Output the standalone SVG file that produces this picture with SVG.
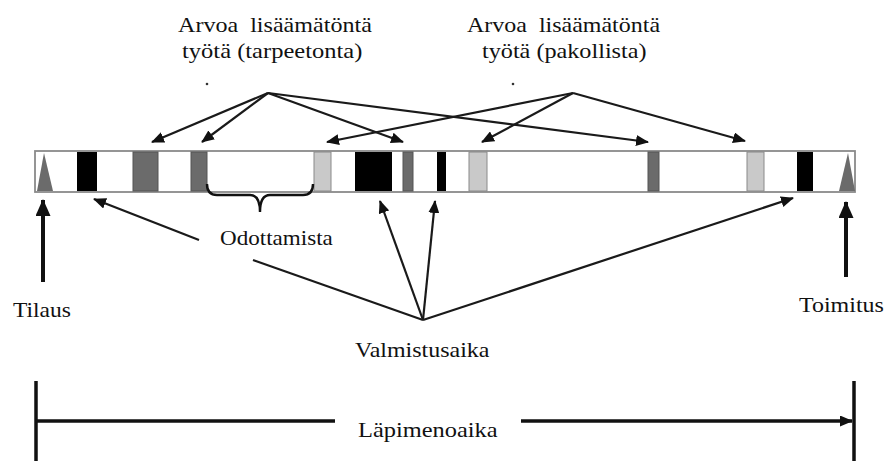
<svg xmlns="http://www.w3.org/2000/svg" width="888" height="461" viewBox="0 0 888 461">
  <style>
    .blk { fill: #000; }
    .dk { fill: #6b6b6b; stroke: #555; stroke-width: 1; }
    .lt { fill: #c9c9c9; stroke: #8a8a8a; stroke-width: 1; }
    .tri { fill: #6b6b6b; }
    .thin { stroke: #1a1a1a; stroke-width: 2.2; fill: none; }
    .bold { stroke: #111; stroke-width: 4; fill: none; }
  </style>
  <defs>
    <marker id="ah" markerUnits="userSpaceOnUse" markerWidth="13" markerHeight="11" refX="12" refY="5.5" orient="auto">
      <path d="M0,0 L13,5.5 L0,11 z" fill="#111"/>
    </marker>
    <marker id="ahBig" markerUnits="userSpaceOnUse" markerWidth="17" markerHeight="15" refX="16" refY="7.5" orient="auto">
      <path d="M0,0 L17,7.5 L0,15 z" fill="#111"/>
    </marker>
  </defs>

  <rect width="888" height="461" fill="#fff"/>

  <!-- process timeline bar -->
  <g id="timeline">
    <rect x="35" y="151" width="820" height="41" fill="#fff" stroke="#8a8a8a" stroke-width="1.8"/>
    <polygon class="tri" points="37,191 44,153 53,191"/>
    <rect class="blk" x="77" y="152" width="20" height="39"/>
    <rect class="dk" x="133" y="152" width="25" height="39"/>
    <rect class="dk" x="191" y="152" width="16" height="39"/>
    <rect class="lt" x="314" y="152" width="17" height="39"/>
    <rect class="blk" x="355" y="152" width="37" height="39"/>
    <rect class="dk" x="403" y="152" width="10" height="39"/>
    <rect class="blk" x="437" y="152" width="9" height="39"/>
    <rect class="lt" x="469" y="152" width="18" height="39"/>
    <rect class="dk" x="648" y="152" width="11" height="39"/>
    <rect class="lt" x="747" y="152" width="17" height="39"/>
    <rect class="blk" x="797" y="152" width="16" height="39"/>
    <polygon class="tri" points="839,191 848,153 855,191"/>
  </g>

  <!-- waiting brace -->
  <g id="brace">
    <path d="M207,184 Q207,195 217,195 L250,195 Q260,195 260,212 Q260,195 270,195 L303,195 Q313,195 313,184" stroke="#111" stroke-width="2.4" fill="none"/>
  </g>

  <!-- labels (serif, slightly widened) -->
  <g id="label-tarpeeton">
    <text transform="translate(178,32) scale(1.095,1)" font-family="Liberation Serif" font-size="22" fill="#111">Arvoa <tspan dx="5.5">lisäämätöntä</tspan></text>
    <text transform="translate(182,58) scale(1.115,1)" font-family="Liberation Serif" font-size="22" fill="#111">työtä (tarpeetonta)</text>
    <circle cx="207" cy="84" r="1.3" fill="#333"/>
  </g>
  <g id="label-pakollinen">
    <text transform="translate(467,32) scale(1.09,1)" font-family="Liberation Serif" font-size="22" fill="#111">Arvoa <tspan dx="5.5">lisäämätöntä</tspan></text>
    <text transform="translate(482,58) scale(1.1,1)" font-family="Liberation Serif" font-size="22" fill="#111">työtä (pakollista)</text>
    <circle cx="513" cy="84" r="1.3" fill="#333"/>
  </g>
  <g id="label-odottamista">
    <text transform="translate(220,245) scale(1.05,1)" font-family="Liberation Serif" font-size="22" fill="#111">Odottamista</text>
  </g>
  <g id="label-tilaus">
    <text transform="translate(13,317) scale(1.07,1)" font-family="Liberation Serif" font-size="22" fill="#111">Tilaus</text>
  </g>
  <g id="label-toimitus">
    <text transform="translate(799,312) scale(1.09,1)" font-family="Liberation Serif" font-size="22" fill="#111">Toimitus</text>
  </g>
  <g id="label-valmistusaika">
    <text transform="translate(355,357) scale(1.09,1)" font-family="Liberation Serif" font-size="22" fill="#111">Valmistusaika</text>
  </g>
  <g id="label-lapimenoaika">
    <text transform="translate(358,437) scale(1.11,1)" font-family="Liberation Serif" font-size="22" fill="#111">Läpimenoaika</text>
  </g>

  <!-- connectors -->
  <g id="connectors">
    <!-- unnecessary non-value-adding work -->
    <line class="thin" x1="268" y1="93" x2="152" y2="142" marker-end="url(#ah)"/>
    <line class="thin" x1="268" y1="93" x2="202" y2="142" marker-end="url(#ah)"/>
    <line class="thin" x1="268" y1="93" x2="403" y2="142" marker-end="url(#ah)"/>
    <line class="thin" x1="268" y1="93" x2="648" y2="142" marker-end="url(#ah)"/>
    <!-- necessary non-value-adding work -->
    <line class="thin" x1="573" y1="93" x2="327" y2="142" marker-end="url(#ah)"/>
    <line class="thin" x1="573" y1="93" x2="482" y2="142" marker-end="url(#ah)"/>
    <line class="thin" x1="573" y1="93" x2="745" y2="141" marker-end="url(#ah)"/>
    <!-- processing time -->
    <line class="thin" x1="423" y1="320" x2="253" y2="260"/>
    <line class="thin" x1="199" y1="240" x2="94" y2="199" marker-end="url(#ah)"/>
    <line class="thin" x1="423" y1="320" x2="380" y2="201" marker-end="url(#ah)"/>
    <line class="thin" x1="423" y1="320" x2="435" y2="201" marker-end="url(#ah)"/>
    <line class="thin" x1="423" y1="320" x2="793" y2="198" marker-end="url(#ah)"/>
    <!-- order and delivery -->
    <line class="bold" x1="43" y1="282" x2="43" y2="200" marker-end="url(#ahBig)"/>
    <line class="bold" x1="846" y1="277" x2="846" y2="202" marker-end="url(#ahBig)"/>
    <!-- lead time span -->
    <line x1="36" y1="381" x2="36" y2="461" stroke="#111" stroke-width="3.5"/>
    <line x1="854" y1="381" x2="854" y2="461" stroke="#111" stroke-width="3.5"/>
    <line x1="36" y1="421" x2="335" y2="421" stroke="#111" stroke-width="3.5"/>
    <line x1="521" y1="421" x2="852" y2="421" stroke="#111" stroke-width="3.5" marker-end="url(#ah)"/>
  </g>
</svg>
